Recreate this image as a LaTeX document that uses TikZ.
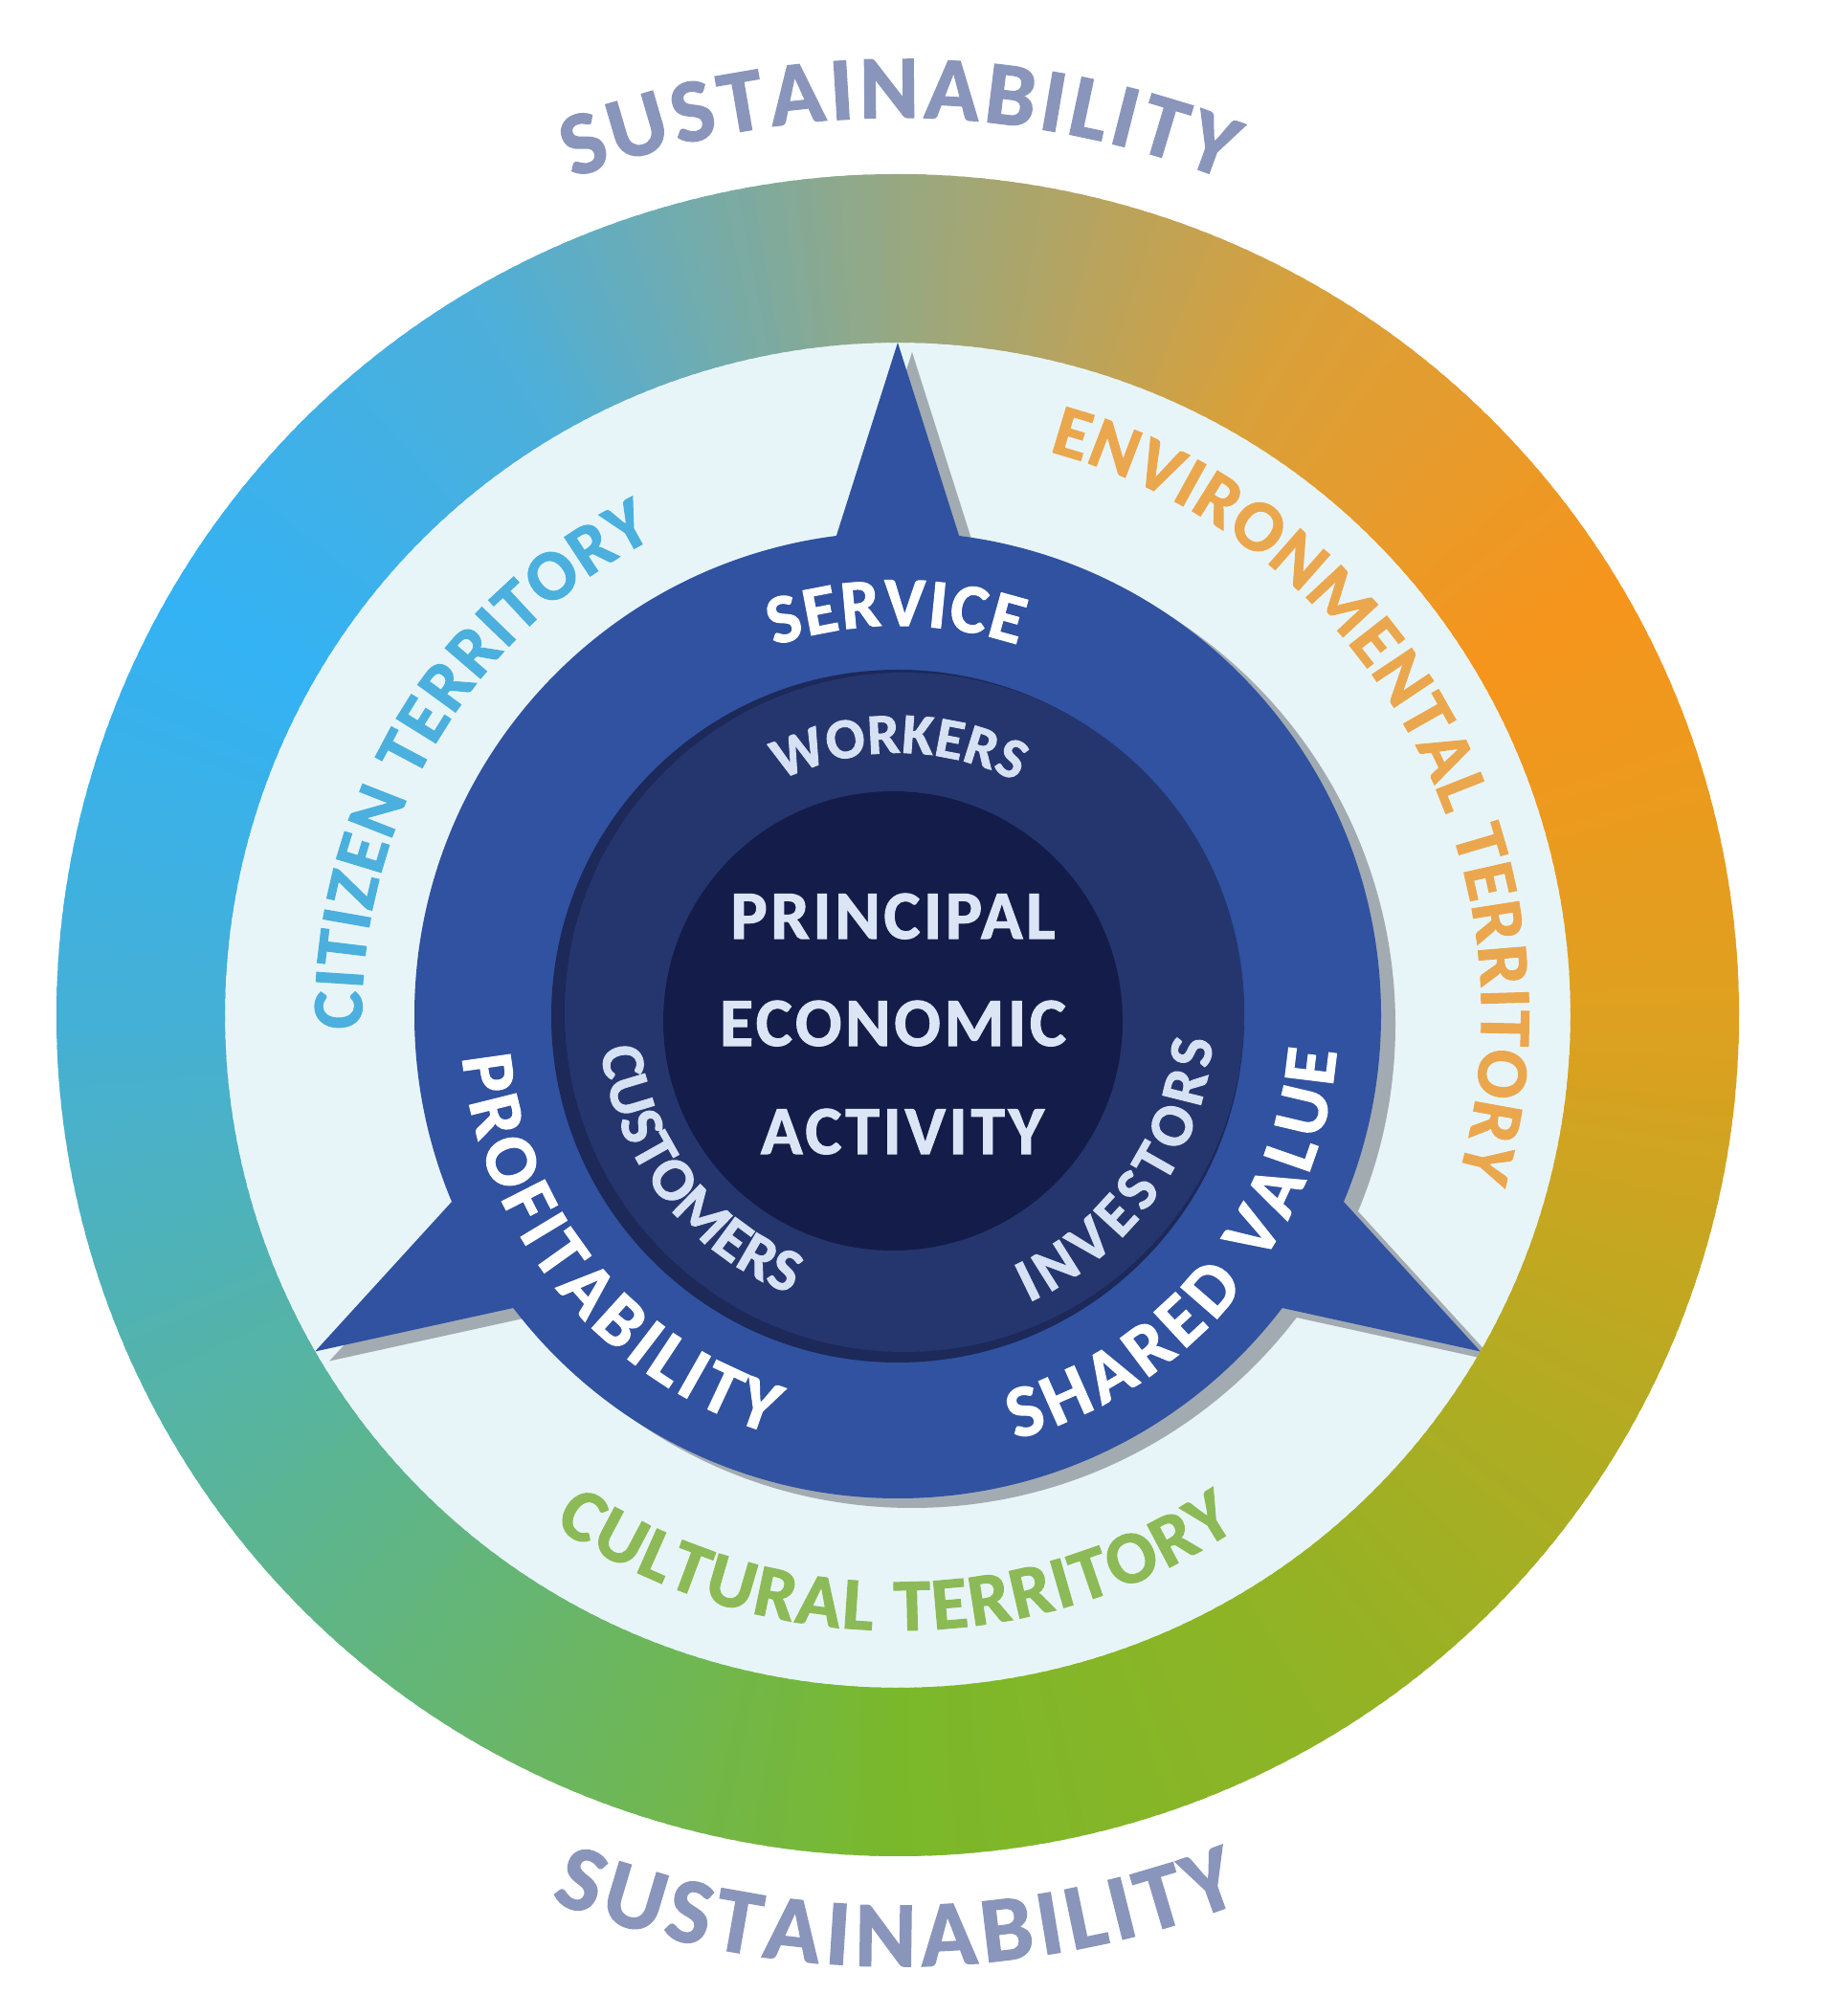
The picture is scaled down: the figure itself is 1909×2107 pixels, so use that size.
\documentclass[tikz,border=0pt]{standalone}
\usepackage{fontspec}
\setmainfont{Carlito}[BoldFeatures={FakeBold=1.5}]
\usetikzlibrary{decorations.text}
\definecolor{g0}{HTML}{DFA020}
\definecolor{g1}{HTML}{F6951C}
\definecolor{g2}{HTML}{D9A03A}
\definecolor{g3}{HTML}{96A882}
\definecolor{g4}{HTML}{4DAFDA}
\definecolor{g5}{HTML}{33B2F4}
\definecolor{g6}{HTML}{45B0D6}
\definecolor{g7}{HTML}{56B4A2}
\definecolor{g8}{HTML}{68B66C}
\definecolor{g9}{HTML}{7AB82A}
\definecolor{g10}{HTML}{8EB425}
\definecolor{g11}{HTML}{B4AB22}
\definecolor{g12}{HTML}{DFA020}
\definecolor{lightfill}{HTML}{E8F5F8}
\definecolor{shadowc}{HTML}{A3ABB2}
\definecolor{starblue}{HTML}{3052A0}
\definecolor{midrim}{HTML}{1C2959}
\definecolor{midblue}{HTML}{25366F}
\definecolor{innerblue}{HTML}{141D49}
\definecolor{sustc}{HTML}{8A95BB}
\definecolor{citc}{HTML}{4BB0DD}
\definecolor{envc}{HTML}{EBA74E}
\definecolor{culc}{HTML}{8CBA56}
\definecolor{innerlab}{HTML}{D6E2F4}
\definecolor{centc}{HTML}{DCE5F5}
\newcommand\fSustTop{\bfseries\fontsize{37.6pt}{40pt}\selectfont}
\newcommand\fSustBot{\bfseries\fontsize{39pt}{42pt}\selectfont}
\newcommand\fTerr{\bfseries\fontsize{30pt}{32pt}\selectfont}
\newcommand\fEnv{\bfseries\fontsize{30.5pt}{32pt}\selectfont}
\newcommand\fCul{\bfseries\fontsize{31pt}{33pt}\selectfont}
\newcommand\fServ{\bfseries\fontsize{29.2pt}{31pt}\selectfont}
\newcommand\fBig{\bfseries\fontsize{31pt}{33pt}\selectfont}
\newcommand\fWork{\bfseries\fontsize{24pt}{26pt}\selectfont}
\newcommand\fSmall{\bfseries\fontsize{25.5pt}{27pt}\selectfont}
\begin{document}
\begin{tikzpicture}[x=0.4pt,y=0.4pt,
  arctext/.style={decorate,decoration={text along path,text align={fit to path},#1}},
  ctext/.style={font=\bfseries\fontsize{28.8pt}{30pt}\selectfont\addfontfeature{LetterSpace=5},text=centc,inner sep=0pt,anchor=base}]
\useasboundingbox[fill=white] (0,0) rectangle (1909,2107);
\begin{scope}[shift={(938,1046)}]
  % light territory disc
  \fill[lightfill] (0,0) circle[radius=705];
  % shadow of star shape
  \begin{scope}[shift={(15,-10)}]
    \fill[shadowc] (0,0) circle[radius=505];
    \foreach \t in {90,210,330}
      \fill[shadowc] (\t-7.3:505) -- (\t:703) -- (\t+7.3:505) -- cycle;
  \end{scope}
  % star shape
  \fill[starblue] (0,0) circle[radius=505];
  \foreach \t in {90,210,330}
    \fill[starblue] (\t-7.3:505) -- (\t:703) -- (\t+7.3:505) -- cycle;
  % gradient sustainability ring
  \foreach \k [evaluate=\k as \kn using int(\k+1)] in {0,...,11} {
    \foreach \s in {0,...,29} {
      \pgfmathtruncatemacro\p{100-\s*100/30}
      \pgfmathsetmacro\aa{\k*30+\s}
      \pgfmathsetmacro\ab{\aa+1.6}
      \fill[g\k!\p!g\kn] (\aa:703) arc[start angle=\aa,end angle=\ab,radius=703]
        -- (\ab:879) arc[start angle=\ab,end angle=\aa,radius=879] -- cycle;
    }
  }
  % middle and inner discs
  \fill[midrim] (0,-1) circle[radius=362];
  \fill[midblue] (7,3) circle[radius=355];
  \fill[innerblue] (-5,-6) circle[radius=240];
  % outer texts
  \path[arctext={text={|\fSustTop|SUSTAINABILITY},text color=sustc}]
    (111.2:938) arc[start angle=111.2,end angle=68.6,radius=938];
  \path[arctext={text={|\fSustBot|SUSTAINABILITY},text color=sustc}]
    (248.6:994) arc[start angle=248.6,end angle=291.2,radius=994];
  % territory texts
  \path[arctext={text={|\fTerr|CITIZEN TERRITORY},text color=citc}]
    (181.5:560) arc[start angle=181.5,end angle=117,radius=560];
  \path[arctext={text={|\fEnv|ENVIRONMENTAL TERRITORY},text color=envc}]
    (75:610) arc[start angle=75,end angle=-16,radius=610];
  \path[arctext={text={|\fCul|CULTURAL TERRITORY},text color=culc}]
    (236:643) arc[start angle=236,end angle=303.5,radius=643];
  % star texts
  \path[arctext={text={|\fServ|SERVICE},text color=white}]
    (108.5:407) arc[start angle=108.5,end angle=72,radius=407];
  \path[arctext={text={|\fBig|PROFITABILITY},text color=white}]
    (185.5:457) arc[start angle=185.5,end angle=253,radius=457];
  \path[arctext={text={|\fBig|SHARED VALUE},text color=white}]
    (285.5:460) arc[start angle=285.5,end angle=355.3,radius=460];
  % middle ring texts
  \path[arctext={text={|\fWork|WORKERS},text color=innerlab}]
    (116.5:274) arc[start angle=116.5,end angle=63,radius=274];
  \path[arctext={text={|\fSmall|CUSTOMERS},text color=innerlab}]
    (186.5:312) arc[start angle=186.5,end angle=249,radius=312];
  \path[arctext={text={|\fSmall|INVESTORS},text color=innerlab}]
    (294.5:330) arc[start angle=294.5,end angle=355.5,radius=330];
  % centre text
  \node[ctext] (l1) at (-5,80) {PRINCIPAL};
  \node[ctext] (l2) at (-5,-32) {ECONOMIC};
  \node[ctext] (l3) at (5,-145) {ACTIVITY};
\end{scope}
\end{tikzpicture}
\end{document}
